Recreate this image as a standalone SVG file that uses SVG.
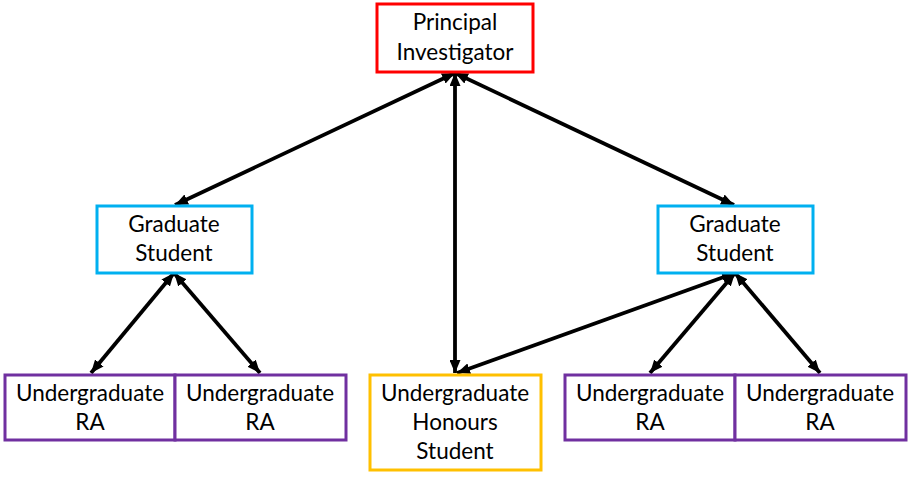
<svg xmlns="http://www.w3.org/2000/svg" width="914" height="480" viewBox="0 0 914 480">
<defs>
<marker id="ah" viewBox="0 0 13 11" refX="13" refY="5.5" markerWidth="13" markerHeight="11" markerUnits="userSpaceOnUse" orient="auto-start-reverse">
<path d="M0,0 L13,5.5 L0,11 Z" fill="#000"/>
</marker>
<style>
text{font-family:Lato,"Open Sans","Liberation Sans",sans-serif;font-size:22.5px;fill:#000;text-anchor:middle}
rect{fill:#fff;stroke-width:3}
.pi{stroke:#FF0000}
.gs{stroke:#00B0F0}
.ra{stroke:#7030A0}
.hs{stroke:#FFC000}
.c line{stroke:#000;stroke-width:3.8;marker-start:url(#ah);marker-end:url(#ah)}
</style>
</defs>
<rect width="914" height="480" fill="#fff" style="stroke:none"/>
<g class="c" id="connectors">
<line x1="455" y1="73" x2="175" y2="205"/>
<line x1="455" y1="73" x2="734" y2="205"/>
<line x1="455" y1="73" x2="455" y2="373"/>
<line x1="174" y1="273" x2="91" y2="373"/>
<line x1="174" y1="273" x2="260" y2="373"/>
<line x1="735" y1="273" x2="457" y2="373"/>
<line x1="735" y1="273" x2="650" y2="373"/>
<line x1="735" y1="273" x2="820" y2="373"/>
</g>
<g id="pi">
<rect class="pi" x="377" y="4" width="156" height="68"/>
<text x="455" y="30">Principal</text>
<text x="455" y="60">Investigator</text>
</g>
<g id="grad-left">
<rect class="gs" x="97" y="206" width="155" height="67"/>
<text x="174" y="232">Graduate</text>
<text x="174" y="261">Student</text>
</g>
<g id="grad-right">
<rect class="gs" x="658" y="206" width="155" height="67"/>
<text x="735" y="232">Graduate</text>
<text x="735" y="261">Student</text>
</g>
<g id="ra1">
<rect class="ra" x="5" y="375" width="170" height="65"/>
<text x="90" y="401">Undergraduate</text>
<text x="90" y="430">RA</text>
</g>
<g id="ra2">
<rect class="ra" x="175" y="375" width="171" height="65"/>
<text x="260" y="401">Undergraduate</text>
<text x="260" y="430">RA</text>
</g>
<g id="honours">
<rect class="hs" x="370" y="375" width="171" height="95"/>
<text x="455" y="401">Undergraduate</text>
<text x="455" y="430">Honours</text>
<text x="455" y="459">Student</text>
</g>
<g id="ra3">
<rect class="ra" x="565" y="375" width="170" height="65"/>
<text x="650" y="401">Undergraduate</text>
<text x="650" y="430">RA</text>
</g>
<g id="ra4">
<rect class="ra" x="735" y="375" width="171" height="65"/>
<text x="820" y="401">Undergraduate</text>
<text x="820" y="430">RA</text>
</g>
</svg>
